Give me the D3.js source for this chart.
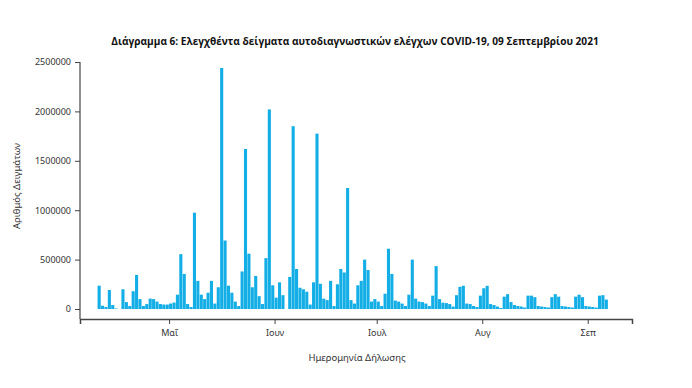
<!DOCTYPE html>
<html>
<head>
<meta charset="utf-8">
<script src="https://cdn.jsdelivr.net/npm/d3@7"></script>
<style>
  body { margin: 0; background: #fff; }
  svg { display: block; font-family: "Noto Sans", sans-serif; }
</style>
</head>
<body>
<script>
// daily values, first day 10 April 2021
const startDate = new Date(2021, 3, 10);
const samples = [
  236000, 33000, 20000, 192000, 40000, 5000, 0, 200000, 70000, 30000,
  180000, 345000, 100000, 30000, 50000, 105000, 100000, 75000, 50000, 45000,
  45000, 55000, 65000, 145000, 555000, 355000, 50000, 20000, 975000, 285000,
  145000, 100000, 165000, 285000, 55000, 220000, 2440000, 693000, 236000, 165000,
  75000, 30000, 380000, 1620000, 560000, 220000, 335000, 130000, 50000, 515000,
  2020000, 240000, 115000, 270000, 140000, 0, 325000, 1850000, 405000, 215000,
  200000, 175000, 45000, 270000, 1775000, 255000, 105000, 90000, 285000, 30000,
  250000, 405000, 370000, 1225000, 90000, 55000, 240000, 285000, 500000, 395000,
  75000, 100000, 75000, 30000, 155000, 610000, 355000, 85000, 75000, 55000,
  30000, 145000, 500000, 105000, 75000, 70000, 55000, 30000, 135000, 434000,
  100000, 64000, 60000, 50000, 25000, 140000, 225000, 235000, 55000, 50000,
  30000, 20000, 135000, 210000, 235000, 50000, 40000, 25000, 10000, 125000,
  150000, 70000, 40000, 30000, 25000, 15000, 135000, 135000, 120000, 30000,
  25000, 20000, 15000, 120000, 150000, 125000, 30000, 25000, 20000, 15000,
  125000, 145000, 120000, 30000, 25000, 20000, 15000, 135000, 140000, 95000
];
const yTicks = [0, 500000, 1000000, 1500000, 2000000, 2500000];
const monthTicks = [new Date(2021, 4, 1), new Date(2021, 5, 1), new Date(2021, 6, 1), new Date(2021, 7, 1), new Date(2021, 8, 1)];
const monthLabels = ['Μαΐ', 'Ιουν', 'Ιουλ', 'Αυγ', 'Σεπ'];

const data = samples.map((v, i) => ({date: d3.timeDay.offset(startDate, i), value: v}));

const width = 692, height = 388;
const axisColor = '#444';

const x = d3.scaleTime()
  .domain([new Date(2021, 3, 4, 20), new Date(2021, 8, 14)])
  .range([80, 632]);

const y = d3.scaleLinear()
  .domain([0, 2500000])
  .range([309, 62]);

const svg = d3.select('body').append('svg').attr('width', width).attr('height', height);

// bars
const dayW = x(new Date(2021, 4, 2)) - x(new Date(2021, 4, 1));
svg.append('g')
  .attr('fill', '#14aee6')
  .selectAll('rect').data(data).enter().append('rect')
  .attr('x', d => x(d.date))
  .attr('y', d => y(d.value))
  .attr('width', dayW - 0.3)
  .attr('height', d => y(0) - y(d.value));

// y axis
const gy = svg.append('g')
  .attr('transform', 'translate(80,0)')
  .call(d3.axisLeft(y).tickValues(yTicks).tickFormat(d3.format('d')).tickSize(5).tickPadding(4));
gy.select('.domain').remove();
gy.append('line').attr('x1', 0).attr('x2', 0).attr('y1', y(2500000)).attr('y2', 319)
  .attr('stroke', axisColor).attr('stroke-width', 1.2);

// x axis
const gx = svg.append('g')
  .attr('transform', 'translate(0,319)')
  .call(d3.axisBottom(x).tickValues(monthTicks).tickFormat((d, i) => monthLabels[i])
    .tickSizeOuter(0).tickSize(5).tickPadding(6));
gx.select('.domain').attr('stroke', axisColor).attr('stroke-width', 1.5);

svg.selectAll('.tick line').attr('stroke', axisColor);
svg.selectAll('.tick text').attr('fill', '#333').style('font-size', '9px').style('font-family', '"Noto Sans", sans-serif');

// titles
svg.append('text')
  .attr('x', 355).attr('y', 45)
  .attr('text-anchor', 'middle')
  .style('font-family', '"Open Sans", sans-serif')
  .style('font-weight', 'bold')
  .style('font-size', '10.1px')
  .attr('fill', '#111')
  .text('Διάγραμμα 6: Ελεγχθέντα δείγματα αυτοδιαγνωστικών ελέγχων COVID-19, 09 Σεπτεμβρίου 2021');

svg.append('text')
  .attr('x', 357).attr('y', 361)
  .attr('text-anchor', 'middle')
  .style('font-size', '9.5px')
  .attr('fill', '#333')
  .text('Ημερομηνία Δήλωσης');

svg.append('text')
  .attr('transform', 'translate(20,186) rotate(-90)')
  .attr('text-anchor', 'middle')
  .style('font-size', '9.5px')
  .attr('fill', '#333')
  .text('Αριθμός Δειγμάτων');
</script>
</body>
</html>
